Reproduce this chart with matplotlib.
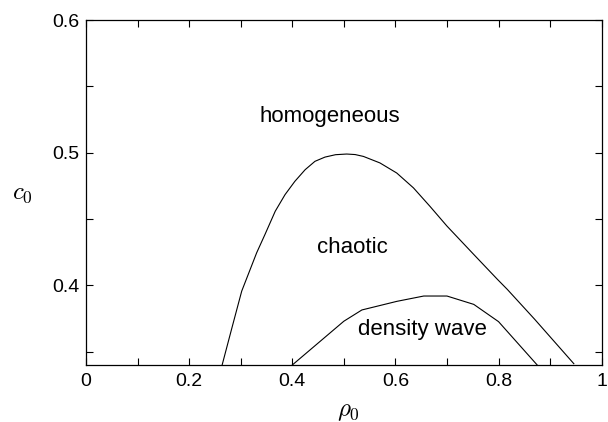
import matplotlib
matplotlib.use("Agg")
import matplotlib.pyplot as plt
from matplotlib.ticker import MultipleLocator

plt.rcParams['font.family'] = ['Liberation Sans', 'DejaVu Sans']
plt.rcParams['mathtext.fontset'] = 'cm'

# Outer boundary (homogeneous / chaotic)
outer_rho = [0.264, 0.283, 0.302, 0.331, 0.347, 0.367, 0.386, 0.405, 0.425,
             0.444, 0.4635, 0.484, 0.5056, 0.522, 0.538, 0.570, 0.6026, 0.635,
             0.667, 0.700, 0.752, 0.798, 0.817, 0.870, 0.946]
outer_c = [0.340, 0.368, 0.3957, 0.4246, 0.4383, 0.4559, 0.4684, 0.4784, 0.4872,
           0.4935, 0.4967, 0.4985, 0.4990, 0.4986, 0.4972, 0.4923, 0.4847, 0.4735,
           0.4596, 0.4447, 0.4233, 0.4045, 0.397, 0.3745, 0.341]

# Inner boundary (chaotic / density wave)
inner_rho = [0.400, 0.500, 0.535, 0.603, 0.655, 0.700, 0.752, 0.800, 0.875]
inner_c = [0.340, 0.373, 0.3815, 0.388, 0.392, 0.392, 0.3857, 0.3727, 0.340]

region_labels = ["homogeneous", "chaotic", "density wave"]
region_rho = [0.472, 0.517, 0.652]
region_c = [0.527, 0.4286, 0.367]

fig = plt.figure(figsize=(6.08, 4.22), dpi=100)
ax = fig.add_axes([0.1414, 0.135, 0.9896 - 0.1414, 0.9526 - 0.135])

ax.plot(outer_rho, outer_c, color='black', lw=0.8)
ax.plot(inner_rho, inner_c, color='black', lw=0.8)

for lab, x, y in zip(region_labels, region_rho, region_c):
    ax.text(x, y, lab, ha='center', va='center', fontsize=16)

ax.set_xlim(0, 1)
ax.set_ylim(0.34, 0.6)
ax.xaxis.set_minor_locator(MultipleLocator(0.1))
ax.yaxis.set_minor_locator(MultipleLocator(0.05))
ax.set_xticks([0, 0.2, 0.4, 0.6, 0.8, 1.0])
ax.set_xticklabels(['0', '0.2', '0.4', '0.6', '0.8', '1'])
ax.set_yticks([0.4, 0.5, 0.6])
ax.set_yticklabels(['0.4', '0.5', '0.6'])

ax.tick_params(which='both', direction='in', top=True, right=True,
               length=5, width=0.8, labelsize=14)
ax.tick_params(axis='x', pad=6)
ax.tick_params(axis='y', pad=5)
for s in ax.spines.values():
    s.set_linewidth(0.9)

ax.set_xlabel(r'$\rho_0$', fontsize=18, va='center')
ax.xaxis.set_label_coords(0.509, -0.133)
ax.set_ylabel(r'$c_0$', fontsize=18, rotation=0, va='center', ha='center')
ax.yaxis.set_label_coords(-0.124, 0.5)

fig.savefig('out.png', dpi=100)
